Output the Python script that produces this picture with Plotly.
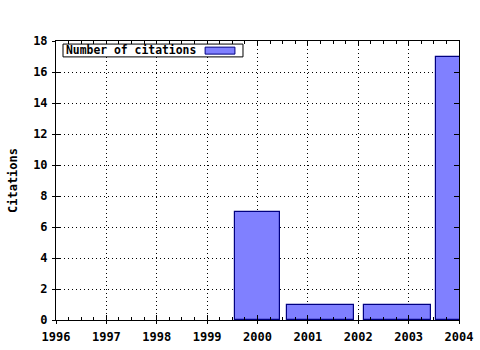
import plotly.graph_objects as go

# Data
bar_x = [2000.0, 2001.245, 2002.775, 2004.0]      # box centres (years)
bar_w = [0.9, 1.33, 1.33, 0.9]                    # box widths (years)
citations = [7, 1, 1, 17]
series_name = "Number of citations"
x_ticks = [1996, 1997, 1998, 1999, 2000, 2001, 2002, 2003, 2004]
y_ticks = [0, 2, 4, 6, 8, 10, 12, 14, 16, 18]

FONT = dict(family="DejaVu Sans Mono", size=12, color="black", weight="bold")
KEY_FONT = dict(family="DejaVu Sans Mono", size=11.4, color="black", weight="bold")
BAR_FILL = "#8080ff"
BAR_LINE = "#000080"

fig = go.Figure()
fig.add_trace(go.Bar(
    x=bar_x, y=citations, width=bar_w, name=series_name,
    marker=dict(color=BAR_FILL, line=dict(color=BAR_LINE, width=1.2)),
    showlegend=False,
))
# invisible trace to activate the overlay axes (crossing ticks)
fig.add_trace(go.Scatter(x=[x_ticks[0]], y=[y_ticks[0]], xaxis="x2", yaxis="y2",
                         mode="markers", marker=dict(opacity=0), showlegend=False,
                         hoverinfo="skip"))

# gnuplot-style key: text followed by a sample box, inside a bordered frame
fig.add_shape(type="rect", xref="paper", yref="paper",
              x0=0.0174, x1=0.464, y0=0.943, y1=0.989,
              fillcolor="white", line=dict(color="black", width=1), layer="above")
fig.add_shape(type="rect", xref="paper", yref="paper",
              x0=0.370, x1=0.444, y0=0.953, y1=0.978,
              fillcolor=BAR_FILL, line=dict(color=BAR_LINE, width=1), layer="above")
fig.add_annotation(text=series_name, xref="paper", yref="paper",
                   x=0.020, y=0.966, xanchor="left", yanchor="middle",
                   showarrow=False, font=KEY_FONT)

fig.update_layout(
    width=480, height=350,
    margin=dict(l=56, r=21, t=41, b=30),
    paper_bgcolor="white", plot_bgcolor="white",
    font=FONT,
    bargap=0,
    showlegend=False,
    xaxis=dict(
        range=[x_ticks[0], x_ticks[-1]], tickvals=x_ticks,
        ticktext=[str(v) for v in x_ticks],
        ticks="inside", ticklen=5, tickcolor="black", tickwidth=1,
        minor=dict(dtick=0.25, ticks="inside", ticklen=3, tickcolor="black", showgrid=False),
        showline=True, linecolor="black", linewidth=1, mirror="allticks",
        showgrid=True, gridcolor="black", griddash="1px,3px", gridwidth=1,
        zeroline=False, tickfont=FONT, automargin=False,
        ticklabelstandoff=6,
    ),
    yaxis=dict(
        range=[y_ticks[0], y_ticks[-1]], tickvals=y_ticks,
        ticks="inside", ticklen=5, tickcolor="black", tickwidth=1,
        showline=True, linecolor="black", linewidth=1, mirror="allticks",
        showgrid=True, gridcolor="black", griddash="1px,3px", gridwidth=1,
        zeroline=False, tickfont=FONT, automargin=False,
        title=dict(text="Citations", font=FONT, standoff=12),
        ticklabelstandoff=5,
    ),
    xaxis2=dict(
        overlaying="x", range=[x_ticks[0], x_ticks[-1]], tickvals=x_ticks,
        ticks="outside", ticklen=3, tickcolor="black", showticklabels=False,
        showgrid=False, zeroline=False, showline=False, automargin=False,
    ),
    yaxis2=dict(
        overlaying="y", range=[y_ticks[0], y_ticks[-1]], tickvals=y_ticks,
        ticks="outside", ticklen=3, tickcolor="black", showticklabels=False,
        showgrid=False, zeroline=False, showline=False, automargin=False,
    ),
)

fig.write_html("out.html")
